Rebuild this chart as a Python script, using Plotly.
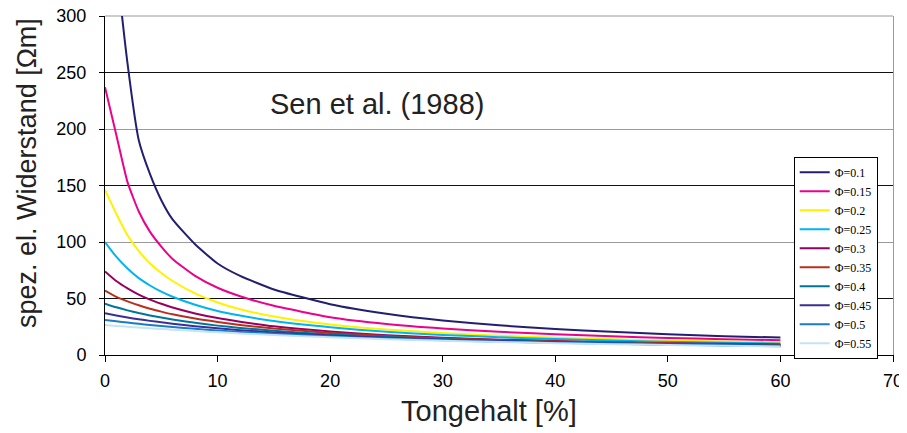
import plotly.graph_objects as go

# Clay content [%]
clay = [0, 1, 2, 3, 4, 5, 6, 8, 10, 12, 15, 20, 25, 30, 35, 40, 45, 50, 55, 60]

phi_labels = ["Φ=0.1", "Φ=0.15", "Φ=0.2", "Φ=0.25", "Φ=0.3",
              "Φ=0.35", "Φ=0.4", "Φ=0.45", "Φ=0.5", "Φ=0.55"]

# specific electrical resistivity [Ohm m]
rho_010 = [560, 350, 258, 190, 160, 137, 120, 98, 81, 70, 58, 45, 36.5, 30.5, 26.3, 23, 20.5, 18.3, 16.7, 15.4]
rho_015 = [237, 195, 153, 127, 109, 96, 85, 70, 59.5, 52, 43.5, 33.5, 27.5, 23.5, 20.5, 18.3, 16.5, 15.1, 14, 13.1]
rho_020 = [146, 125, 106, 92, 81, 72.5, 65.5, 54.5, 46.5, 40.5, 34, 27, 22.5, 19.5, 17, 15.3, 13.9, 12.8, 11.9, 11.2]
rho_025 = [100, 87, 76.5, 68, 61.5, 56, 51.5, 44.5, 39, 35, 30, 24.5, 20.5, 17.8, 15.7, 14.1, 12.8, 11.7, 10.8, 10.2]
rho_030 = [74, 65.5, 59, 53.5, 49, 45.3, 42, 36.8, 32.7, 29.5, 25.4, 20.8, 17.5, 15.3, 13.6, 12.4, 11.3, 10.5, 9.9, 9.4]
rho_035 = [57, 51.5, 47.5, 44, 41, 38.4, 36, 32.2, 29.2, 26.6, 23.4, 19.5, 16.8, 14.8, 13.2, 12, 11, 10.1, 9.4, 8.9]
rho_040 = [45.5, 42.2, 39.5, 37.1, 35, 33.1, 31.4, 28.5, 26, 24, 21.5, 18.2, 15.9, 14.1, 12.7, 11.5, 10.6, 9.8, 9.1, 8.5]
rho_045 = [37, 35, 33.2, 31.6, 30.2, 28.9, 27.7, 25.5, 23.6, 22, 20, 17.2, 15.2, 13.6, 12.3, 11.2, 10.2, 9.4, 8.7, 8.1]
rho_050 = [31, 29.8, 28.7, 27.6, 26.6, 25.7, 24.8, 23.2, 21.7, 20.4, 18.7, 16.3, 14.5, 13, 11.8, 10.8, 9.9, 9.1, 8.4, 7.8]
rho_055 = [26.5, 25.7, 25, 24.3, 23.6, 23, 22.4, 21.2, 20.1, 19.1, 17.7, 15.6, 14, 12.6, 11.5, 10.5, 9.6, 8.8, 8.1, 7.5]

series = [rho_010, rho_015, rho_020, rho_025, rho_030,
          rho_035, rho_040, rho_045, rho_050, rho_055]
colors = ["#231f70", "#ec008c", "#fff200", "#00b4f0", "#98005d",
          "#b7301e", "#00759a", "#3b2e96", "#1a7cc4", "#c4e4f6"]

x_ticks = [0, 10, 20, 30, 40, 50, 60, 70]
y_ticks = [0, 50, 100, 150, 200, 250, 300]

fig = go.Figure()
for lab, vals, col in zip(phi_labels, series, colors):
    fig.add_trace(go.Scatter(x=clay, y=vals, name=lab, mode="lines",
                             line=dict(color=col, width=2, shape="spline", smoothing=0.5),
                             cliponaxis=True))

# invisible trace carrying the gray secondary grid / right border
fig.add_trace(go.Scatter(x=[0], y=[0], yaxis="y2", mode="markers",
                         marker=dict(opacity=0), showlegend=False, hoverinfo="skip"))

fig.update_layout(
    width=907, height=433,
    margin=dict(l=97, r=22, t=8, b=86, autoexpand=False),
    paper_bgcolor="white", plot_bgcolor="white",
    font=dict(family="Liberation Sans, Arial, sans-serif", color="black"),
    showlegend=True,
    legend=dict(x=0.874, y=0.585, xanchor="left", yanchor="top",
                bgcolor="white", bordercolor="black", borderwidth=1,
                font=dict(family="Liberation Serif, Times New Roman, serif", size=12, color="black"),
                itemwidth=30, tracegroupgap=0),
    xaxis=dict(range=[0, 70], tickvals=x_ticks, ticks="outside", ticklen=6,
               tickcolor="black", showline=True, linecolor="black", linewidth=1,
               showgrid=False, zeroline=False, tickfont=dict(size=18),
               ticklabelstandoff=3, ticklabeloverflow="allow", automargin=False),
    yaxis=dict(range=[0, 300], tickvals=y_ticks, ticks="outside", ticklen=5,
               tickcolor="black", showline=True, linecolor="black", linewidth=1,
               showgrid=True, gridcolor="#111111", gridwidth=1, zeroline=False,
               tickfont=dict(size=18), ticklabelstandoff=9,
               ticklabeloverflow="allow", automargin=False),
    yaxis2=dict(range=[0, 300], overlaying="y", side="right", dtick=100, tick0=0,
                showticklabels=False, ticks="", showgrid=True, gridcolor="#9a9a9a",
                gridwidth=1, zeroline=False, showline=True, linecolor="#9a9a9a",
                automargin=False),
    shapes=[dict(type="line", xref="paper", yref="paper", x0=0, x1=1, y0=1, y1=1,
                 line=dict(color="#9a9a9a", width=1), layer="below")],
    annotations=[
        dict(x=24.2, y=222, xref="x", yref="y", text="Sen et al. (1988)",
             showarrow=False, font=dict(size=29, color="#222222")),
        dict(x=0.487, y=-0.165, xref="paper", yref="paper", text="Tongehalt [%]",
             showarrow=False, xanchor="center", yanchor="middle",
             font=dict(size=29, color="#222222")),
        dict(x=-0.099, y=0.537, xref="paper", yref="paper", text="spez. el. Widerstand [Ωm]",
             showarrow=False, textangle=-90, xanchor="center", yanchor="middle",
             font=dict(size=27, color="#222222")),
    ],
)

fig.write_html("out.html")
